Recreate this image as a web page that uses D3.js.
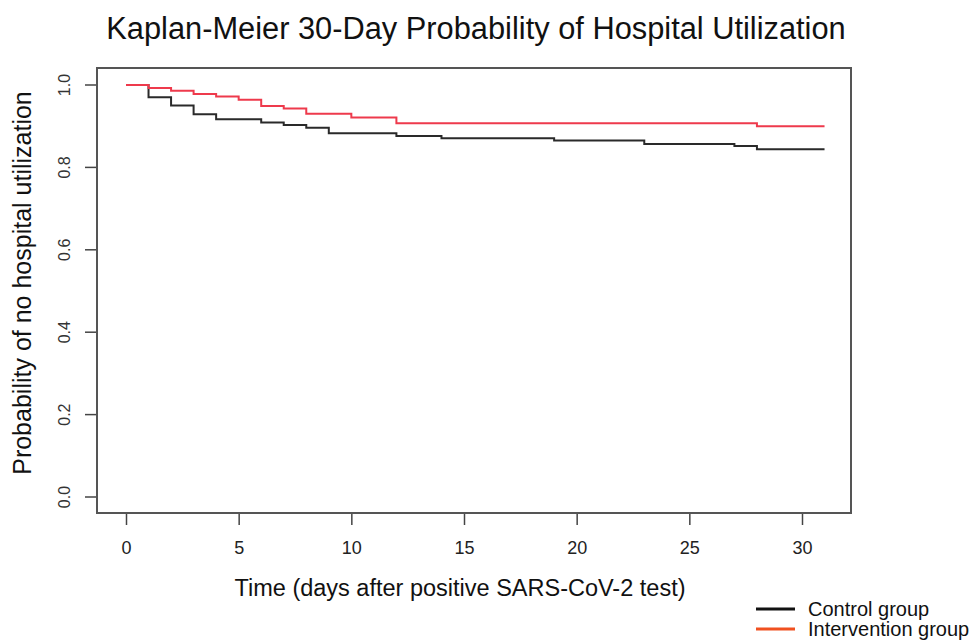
<!DOCTYPE html>
<html>
<head>
<meta charset="utf-8">
<script src="https://cdn.jsdelivr.net/npm/d3@7"></script>
<style>
  body { margin: 0; background: #fff; }
  svg text { font-family: "Liberation Sans", Arial, sans-serif; }
</style>
</head>
<body>
<div id="main-frame"></div>
<script>
// control group KM steps (day, survival)
var ctrlDays = [0, 1, 2, 3, 4, 6, 7, 8, 9, 12, 14, 19, 23, 27, 28, 31];
var ctrlSurv = [1, 0.970, 0.950, 0.929, 0.917, 0.909, 0.903, 0.896, 0.883, 0.876, 0.871, 0.865, 0.857, 0.852, 0.844, 0.844];

// intervention group KM steps
var intDays = [0, 1, 2, 3, 4, 5, 6, 7, 8, 10, 12, 28, 31];
var intSurv = [1, 0.993, 0.986, 0.978, 0.972, 0.964, 0.949, 0.943, 0.930, 0.921, 0.907, 0.900, 0.900];

var xTicks = [0, 5, 10, 15, 20, 25, 30];
var yTicks = [0, 0.2, 0.4, 0.6, 0.8, 1.0];
var legendNames = ["Control group", "Intervention group"];

var width = 972, height = 640;

var svg = d3.select("#main-frame")
  .append("svg")
  .attr("width", width)
  .attr("height", height);

var x = d3.scaleLinear().domain([0, 30]).range([126, 802]);
var y = d3.scaleLinear().domain([0, 1]).range([497, 85]);

// title
svg.append("text")
  .attr("x", 476)
  .attr("y", 39)
  .attr("text-anchor", "middle")
  .style("font-size", "30.8px")
  .style("fill", "#111")
  .text("Kaplan-Meier 30-Day Probability of Hospital Utilization");

// axes (R style, ticks outside the box)
var xAxis = svg.append("g")
  .attr("transform", "translate(0,513)")
  .call(d3.axisBottom(x).tickValues(xTicks).tickSize(12).tickPadding(16).tickFormat(d3.format("d")));
xAxis.select(".domain").remove();
xAxis.selectAll("line").style("stroke", "#444").style("stroke-width", 1.5);
xAxis.selectAll("text").style("font-size", "18px").style("fill", "#222");

var yAxis = svg.append("g")
  .attr("transform", "translate(97,0)")
  .call(d3.axisLeft(y).tickValues(yTicks).tickSize(12).tickFormat(d3.format(".1f")));
yAxis.select(".domain").remove();
yAxis.selectAll("line").style("stroke", "#444").style("stroke-width", 1.5);
yAxis.selectAll(".tick").attr("transform", null);
yAxis.selectAll(".tick line")
  .attr("transform", function(d) { return "translate(0," + y(d) + ")"; });
yAxis.selectAll(".tick text")
  .attr("x", 0).attr("y", 0).attr("dy", 0)
  .attr("text-anchor", "middle")
  .attr("transform", function(d) { return "translate(-27," + y(d) + ") rotate(-90)"; })
  .style("font-size", "16px")
  .style("fill", "#333");

// box
svg.append("rect")
  .attr("x", 97)
  .attr("y", 68)
  .attr("width", 754)
  .attr("height", 445)
  .style("fill", "none")
  .style("stroke", "#555")
  .style("stroke-width", 2);

// curves
var line = d3.line()
  .x(function(d) { return x(d[0]); })
  .y(function(d) { return y(d[1]); })
  .curve(d3.curveStepAfter);

svg.append("path")
  .datum(d3.zip(ctrlDays, ctrlSurv))
  .attr("d", line)
  .style("fill", "none")
  .style("stroke", "#2a2a2a")
  .style("stroke-width", 2);

svg.append("path")
  .datum(d3.zip(intDays, intSurv))
  .attr("d", line)
  .style("fill", "none")
  .style("stroke", "#ee3a4c")
  .style("stroke-width", 2);

// axis titles
svg.append("text")
  .attr("x", 460)
  .attr("y", 596)
  .attr("text-anchor", "middle")
  .style("font-size", "23.5px")
  .style("fill", "#111")
  .text("Time (days after positive SARS-CoV-2 test)");

svg.append("text")
  .attr("transform", "translate(31,283) rotate(-90)")
  .attr("text-anchor", "middle")
  .style("font-size", "25px")
  .style("fill", "#111")
  .text("Probability of no hospital utilization");

// legend
var legendColors = ["#111", "#f05020"];
legendNames.forEach(function(name, i) {
  var ly = 609 + i * 20;
  svg.append("line")
    .attr("x1", 756).attr("x2", 795)
    .attr("y1", ly).attr("y2", ly)
    .style("stroke", legendColors[i])
    .style("stroke-width", 3);
  svg.append("text")
    .attr("x", 808)
    .attr("y", ly + 7)
    .style("font-size", "20px")
    .style("fill", "#111")
    .text(name);
});
</script>
</body>
</html>
